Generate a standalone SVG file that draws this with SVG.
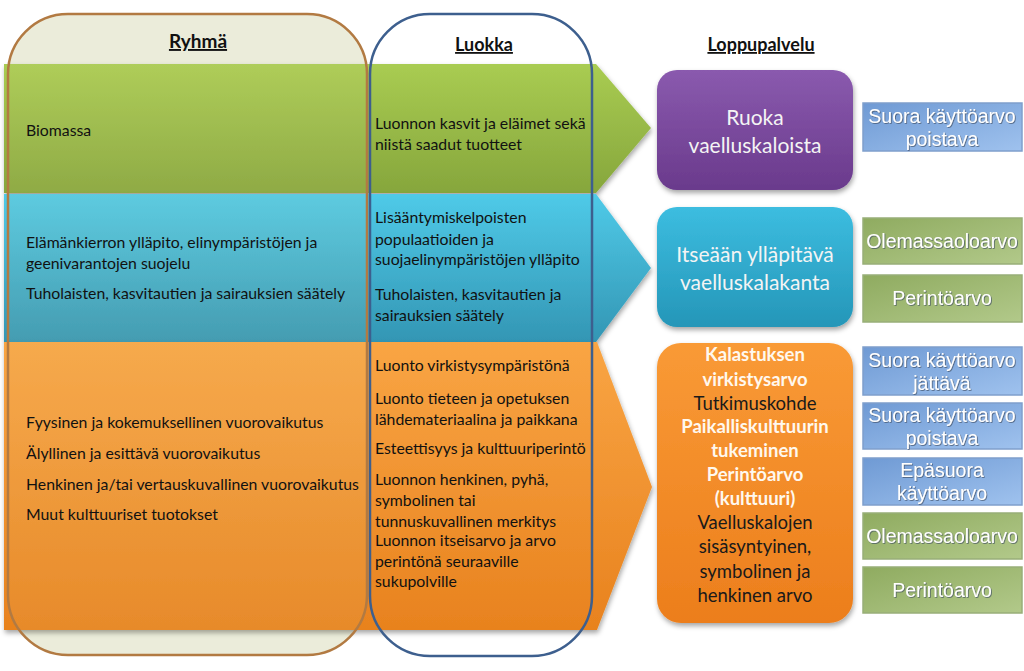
<svg xmlns="http://www.w3.org/2000/svg" width="1024" height="671" viewBox="0 0 1024 671">
<style>
.t{font-family:Lato,"Liberation Sans",sans-serif;font-size:15.8px;fill:#111}
.h{font-family:Lato,"Liberation Sans",sans-serif;font-weight:bold;fill:#111;text-decoration:underline;text-anchor:middle}
.n{font-family:Lato,"Liberation Sans",sans-serif;font-size:21px;fill:#f4f4f4;text-anchor:middle}
.o{font-family:Lato,"Liberation Sans",sans-serif;font-size:18.5px;text-anchor:middle}
.ob{font-weight:bold;fill:#fff8ee}
.od{fill:#1a1a1a}
.v{font-family:"Liberation Sans",Arial,sans-serif;font-size:19.5px;fill:#fff;text-anchor:middle;filter:url(#ts)}
.bb{fill:url(#gBox);stroke:#7f9fcc;stroke-width:1.5}
.gb{fill:url(#gGreen);stroke:#98ae78;stroke-width:1.5}
</style>
<defs>
<linearGradient id="gBand1" x1="0" y1="0" x2="0" y2="1"><stop offset="0" stop-color="#a9cc52"/><stop offset="1" stop-color="#86a63c"/></linearGradient>
<linearGradient id="gBand2" x1="0" y1="0" x2="0" y2="1"><stop offset="0" stop-color="#4fcae8"/><stop offset="1" stop-color="#3396b4"/></linearGradient>
<linearGradient id="gBand3" x1="0" y1="0" x2="0" y2="1"><stop offset="0" stop-color="#f9a544"/><stop offset="1" stop-color="#e8821e"/></linearGradient>
<linearGradient id="gPur" x1="0" y1="0" x2="0" y2="1"><stop offset="0" stop-color="#8a5aae"/><stop offset="1" stop-color="#6a3a8c"/></linearGradient>
<linearGradient id="gTeal" x1="0" y1="0" x2="0" y2="1"><stop offset="0" stop-color="#3cbde0"/><stop offset="1" stop-color="#2596b8"/></linearGradient>
<linearGradient id="gOr" x1="0" y1="0" x2="0" y2="1"><stop offset="0" stop-color="#f99a36"/><stop offset="1" stop-color="#ec7e1c"/></linearGradient>
<linearGradient id="gBox" x1="0" y1="0" x2="1" y2="1"><stop offset="0" stop-color="#6f9ad4"/><stop offset="1" stop-color="#9fc2ee"/></linearGradient>
<linearGradient id="gGreen" x1="0" y1="0" x2="1" y2="1"><stop offset="0" stop-color="#8fab60"/><stop offset="1" stop-color="#b2c98a"/></linearGradient>
<filter id="sh" x="-10%" y="-10%" width="120%" height="130%"><feDropShadow dx="1" dy="3" stdDeviation="2.5" flood-color="#000" flood-opacity="0.35"/></filter>
<filter id="ts" x="-5%" y="-20%" width="110%" height="150%"><feDropShadow dx="0.8" dy="0.8" stdDeviation="0.6" flood-color="#3a4a60" flood-opacity="0.8"/></filter>
</defs>
<rect width="1024" height="671" fill="#fff"/>

<g id="ryhma-bg"><rect x="8" y="14" width="359" height="641" rx="60" fill="#ecefe1"/></g>

<g id="bands">
<polygon id="band-green" points="4,64 596,64 651,128 596,193 4,193" fill="url(#gBand1)" filter="url(#sh)"/>
<polygon id="band-blue" points="4,194 596,194 651,268 596,342 4,342" fill="url(#gBand2)" filter="url(#sh)"/>
<polygon id="band-orange" points="4,342 597,342 652,487 597,630 4,630" fill="url(#gBand3)" filter="url(#sh)"/>
</g>

<g id="ryhma"><rect x="8" y="14" width="359" height="641" rx="60" fill="#e0d8a0" fill-opacity="0.1" stroke="#b27a42" stroke-width="2.5"/>
<text class="h" x="198" y="48" font-size="19">Ryhmä</text>
<text class="t" x="26" y="136">Biomassa</text>
<text class="t" x="26" y="248">Elämänkierron ylläpito, elinympäristöjen ja</text>
<text class="t" x="26" y="269">geenivarantojen suojelu</text>
<text class="t" x="26" y="299">Tuholaisten, kasvitautien ja sairauksien säätely</text>
<text class="t" x="26" y="428">Fyysinen ja kokemuksellinen vuorovaikutus</text>
<text class="t" x="26" y="459">Älyllinen ja esittävä vuorovaikutus</text>
<text class="t" x="26" y="490">Henkinen ja/tai vertauskuvallinen vuorovaikutus</text>
<text class="t" x="26" y="520">Muut kulttuuriset tuotokset</text>
</g>

<g id="luokka"><rect x="370" y="14" width="222" height="642" rx="60" fill="none" stroke="#3d5f8e" stroke-width="2.5"/>
<text class="h" x="484" y="51" font-size="18">Luokka</text>
<text class="t" x="375" y="129">Luonnon kasvit ja eläimet sekä</text>
<text class="t" x="375" y="150">niistä saadut tuotteet</text>
<text class="t" x="375" y="223">Lisääntymiskelpoisten</text>
<text class="t" x="375" y="245">populaatioiden ja</text>
<text class="t" x="375" y="265">suojaelinympäristöjen ylläpito</text>
<text class="t" x="375" y="300">Tuholaisten, kasvitautien ja</text>
<text class="t" x="375" y="321">sairauksien säätely</text>
<text class="t" x="375" y="371">Luonto virkistysympäristönä</text>
<text class="t" x="375" y="404">Luonto tieteen ja opetuksen</text>
<text class="t" x="375" y="425">lähdemateriaalina ja paikkana</text>
<text class="t" x="375" y="454">Esteettisyys ja kulttuuriperintö</text>
<text class="t" x="375" y="485">Luonnon henkinen, pyhä,</text>
<text class="t" x="375" y="506">symbolinen tai</text>
<text class="t" x="375" y="527">tunnuskuvallinen merkitys</text>
<text class="t" x="375" y="546">Luonnon itseisarvo ja arvo</text>
<text class="t" x="375" y="567">perintönä seuraaville</text>
<text class="t" x="375" y="587">sukupolville</text>
</g>

<g id="loppupalvelu-header"><text class="h" x="761" y="51" font-size="18">Loppupalvelu</text></g>

<g id="node-ruoka"><rect x="657" y="70" width="196" height="120" rx="20" fill="url(#gPur)" filter="url(#sh)"/>
<text class="n" x="755" y="125">Ruoka</text><text class="n" x="755" y="153">vaelluskaloista</text></g>

<g id="node-kanta"><rect x="657" y="207" width="196" height="120" rx="20" fill="url(#gTeal)" filter="url(#sh)"/>
<text class="n" x="755" y="262">Itseään ylläpitävä</text><text class="n" x="755" y="290">vaelluskalakanta</text></g>

<g id="node-kulttuuri"><rect x="657" y="343" width="196" height="280" rx="24" fill="url(#gOr)" filter="url(#sh)"/>
<text class="o ob" x="755" y="361">Kalastuksen</text>
<text class="o ob" x="755" y="386">virkistysarvo</text>
<text class="o od" x="755" y="410">Tutkimuskohde</text>
<text class="o ob" x="755" y="433">Paikalliskulttuurin</text>
<text class="o ob" x="755" y="457">tukeminen</text>
<text class="o ob" x="755" y="481">Perintöarvo</text>
<text class="o ob" x="755" y="505">(kulttuuri)</text>
<text class="o od" x="755" y="529">Vaelluskalojen</text>
<text class="o od" x="755" y="553">sisäsyntyinen,</text>
<text class="o od" x="755" y="578">symbolinen ja</text>
<text class="o od" x="755" y="602">henkinen arvo</text>
</g>

<g id="v-poistava1"><rect class="bb" x="863" y="103" width="159" height="48"/><text class="v" x="942" y="123">Suora käyttöarvo</text><text class="v" x="942" y="146">poistava</text></g>
<g id="v-olemassa1"><rect class="gb" x="863" y="218" width="159" height="46"/><text class="v" x="942" y="248">Olemassaoloarvo</text></g>
<g id="v-perinto1"><rect class="gb" x="863" y="275" width="159" height="47"/><text class="v" x="942" y="305">Perintöarvo</text></g>
<g id="v-jattava"><rect class="bb" x="863" y="347" width="159" height="48"/><text class="v" x="942" y="367">Suora käyttöarvo</text><text class="v" x="942" y="390">jättävä</text></g>
<g id="v-poistava2"><rect class="bb" x="863" y="403" width="159" height="46"/><text class="v" x="942" y="422">Suora käyttöarvo</text><text class="v" x="942" y="445">poistava</text></g>
<g id="v-epasuora"><rect class="bb" x="863" y="458" width="159" height="47"/><text class="v" x="942" y="477">Epäsuora</text><text class="v" x="942" y="500">käyttöarvo</text></g>
<g id="v-olemassa2"><rect class="gb" x="863" y="513" width="159" height="46"/><text class="v" x="942" y="543">Olemassaoloarvo</text></g>
<g id="v-perinto2"><rect class="gb" x="863" y="567" width="159" height="46"/><text class="v" x="942" y="597">Perintöarvo</text></g>

<g id="connectors"></g>
</svg>
